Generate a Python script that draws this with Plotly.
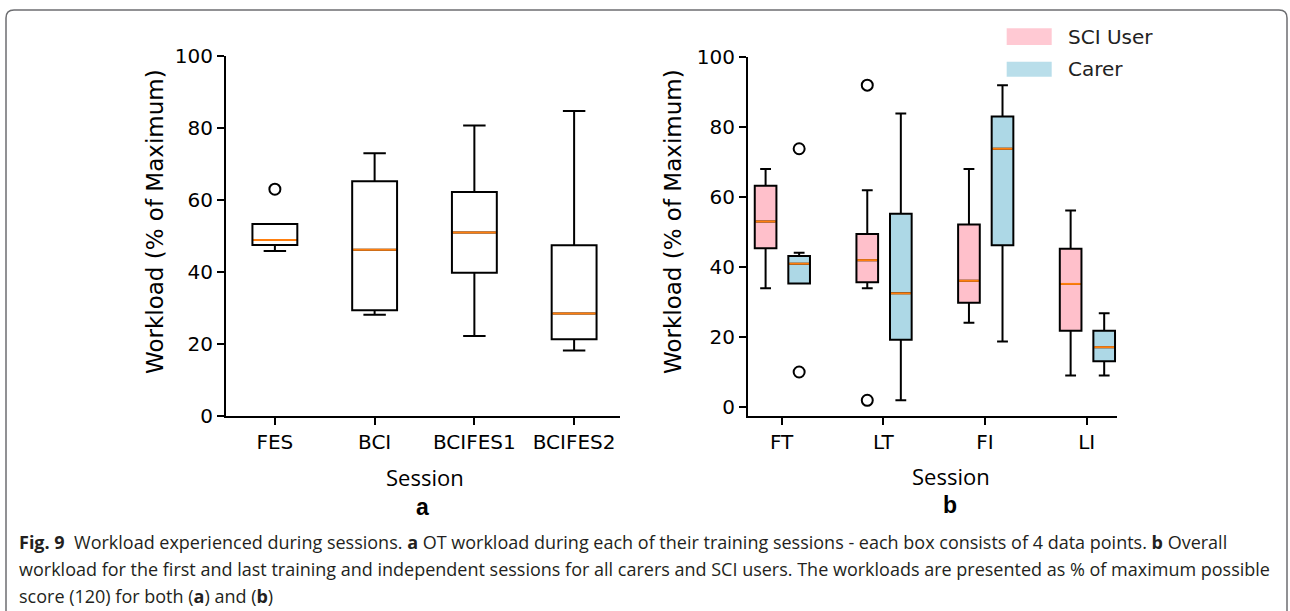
import plotly.graph_objects as go

W, H = 1290, 611

# ---------------- data ----------------
sessions_a = ["FES", "BCI", "BCIFES1", "BCIFES2"]
a_low = [45.8, 28.1, 22.2, 18.2]
a_q1 = [47.5, 29.4, 39.8, 21.3]
a_med = [48.9, 46.2, 51.0, 28.5]
a_q3 = [53.3, 65.2, 62.2, 47.4]
a_high = [53.3, 73.0, 80.7, 84.7]
a_out_session = ["FES"]
a_out_value = [63.0]

sessions_b = ["FT", "LT", "FI", "LI"]
sci_low = [33.9, 33.9, 24.0, 8.9]
sci_q1 = [45.3, 35.6, 29.7, 21.7]
sci_med = [53.0, 41.9, 36.0, 35.1]
sci_q3 = [63.2, 49.4, 52.1, 45.2]
sci_high = [68.0, 61.9, 68.0, 56.1]
sci_out_session = ["LT", "LT"]
sci_out_value = [92.0, 1.8]

carer_low = [35.2, 1.8, 18.6, 8.9]
carer_q1 = [35.2, 19.1, 46.2, 13.0]
carer_med = [40.9, 32.4, 73.8, 17.0]
carer_q3 = [43.1, 55.2, 83.0, 21.7]
carer_high = [44.0, 83.9, 92.0, 26.7]
carer_out_session = ["FT", "FT"]
carer_out_value = [73.8, 9.9]

y_ticks = [0, 20, 40, 60, 80, 100]

# ---------------- styling ----------------
BOX_LINE = dict(color="black", width=2)
MED_COLOR = "#ff7f0e"
PINK = "#FFC0CB"
BLUE = "#ADD8E6"
TICKFONT = dict(family="DejaVu Sans", size=20, color="black")

pos_a = {s: i + 1 for i, s in enumerate(sessions_a)}
pos_b = {s: i + 1 for i, s in enumerate(sessions_b)}
w_a = 0.45
w_b = 0.213
off_sci = -0.158
off_carer = 0.172


def px_x(p):
    return p / W


def px_y(p):
    return 1 - p / H


fig = go.Figure()


def add_group(xs, low, q1, med, q3, high, width, fill, xa, ya):
    fig.add_trace(go.Box(
        x=xs, q1=q1, median=med, q3=q3, lowerfence=low, upperfence=high,
        width=width, whiskerwidth=0.5, line=BOX_LINE, fillcolor=fill,
        boxpoints=False, showlegend=False, xaxis=xa, yaxis=ya,
        hoverinfo="skip",
    ))
    mx, my = [], []
    for x, m in zip(xs, med):
        mx += [x - width / 2 + 0.01, x + width / 2 - 0.01, None]
        my += [m, m, None]
    fig.add_trace(go.Scatter(
        x=mx, y=my, mode="lines", line=dict(color=MED_COLOR, width=2),
        showlegend=False, xaxis=xa, yaxis=ya, hoverinfo="skip",
    ))


def add_outliers(xs, ys, xa, ya):
    fig.add_trace(go.Scatter(
        x=xs, y=ys, mode="markers",
        marker=dict(symbol="circle-open", size=11, color="black",
                    line=dict(width=2, color="black")),
        showlegend=False, xaxis=xa, yaxis=ya, hoverinfo="skip",
    ))


# panel a
xa_pos = [pos_a[s] for s in sessions_a]
add_group(xa_pos, a_low, a_q1, a_med, a_q3, a_high, w_a,
          "rgba(0,0,0,0)", "x", "y")
add_outliers([pos_a[s] for s in a_out_session], a_out_value, "x", "y")

# panel b
xs_sci = [pos_b[s] + off_sci for s in sessions_b]
xs_car = [pos_b[s] + off_carer for s in sessions_b]
add_group(xs_sci, sci_low, sci_q1, sci_med, sci_q3, sci_high, w_b,
          PINK, "x2", "y2")
add_group(xs_car, carer_low, carer_q1, carer_med, carer_q3, carer_high, w_b,
          BLUE, "x2", "y2")
add_outliers([pos_b[s] + off_sci for s in sci_out_session], sci_out_value,
             "x2", "y2")
add_outliers([pos_b[s] + off_carer for s in carer_out_session],
             carer_out_value, "x2", "y2")

axis_common = dict(
    showline=True, linecolor="black", linewidth=2, mirror=False,
    ticks="outside", ticklen=7, tickwidth=2, tickcolor="black",
    showgrid=False, zeroline=False, tickfont=TICKFONT, fixedrange=True,
    automargin=False,
)

fig.update_layout(
    width=W, height=H,
    margin=dict(l=0, r=0, t=0, b=0, pad=0, autoexpand=False),
    paper_bgcolor="white", plot_bgcolor="white",
    boxmode="overlay",
    xaxis=dict(domain=[px_x(226), px_x(620)], range=[0.51, 4.46],
               tickvals=xa_pos, ticktext=sessions_a, anchor="y",
               **axis_common),
    yaxis=dict(domain=[px_y(416), px_y(56)], range=[0, 100],
               tickvals=y_ticks, anchor="x", **axis_common),
    xaxis2=dict(domain=[px_x(748), px_x(1117)], range=[0.669, 4.298],
                tickvals=[pos_b[s] for s in sessions_b], ticktext=sessions_b,
                anchor="y2", **axis_common),
    yaxis2=dict(domain=[px_y(416), px_y(57.2)], range=[-2.7, 100],
                tickvals=y_ticks, anchor="x2", **axis_common),
)

annotations = []
# y-axis titles
for xc in (155, 673):
    annotations.append(dict(
        x=px_x(xc), y=px_y(222), xref="paper", yref="paper",
        text="Workload (% of Maximum)", textangle=-90, showarrow=False,
        font=dict(family="DejaVu Sans", size=23, color="black"),
        xanchor="center", yanchor="middle"))
# x-axis titles and panel letters
for xc, yc, txt in ((425, 477, "Session"), (951, 476, "Session")):
    annotations.append(dict(
        x=px_x(xc), y=px_y(yc), xref="paper", yref="paper", text=txt,
        showarrow=False, font=dict(family="Open Sans", size=22, color="black"),
        xanchor="center", yanchor="middle"))
for xc, yc, txt in ((422, 507, "a"), (950, 505, "b")):
    annotations.append(dict(
        x=px_x(xc), y=px_y(yc), xref="paper", yref="paper",
        text="<b>%s</b>" % txt, showarrow=False,
        font=dict(family="Liberation Sans", size=23, color="black"),
        xanchor="center", yanchor="middle"))
# legend
legend_items = [("SCI User", PINK, 28.3, 45), ("Carer", BLUE, 61.7, 76.7)]
shapes = []
for label, col, y0, y1 in legend_items:
    shapes.append(dict(type="rect", xref="paper", yref="paper",
                       x0=px_x(1006.7), x1=px_x(1051.7),
                       y0=px_y(y1), y1=px_y(y0),
                       fillcolor=col, opacity=0.85, line=dict(width=0)))
    annotations.append(dict(
        x=px_x(1066), y=px_y((y0 + y1) / 2), xref="paper", yref="paper",
        text=label, showarrow=False, xanchor="left", yanchor="middle",
        font=dict(family="DejaVu Sans", size=20, color="#222")))

# caption
caption_lines = [
    "<b>Fig. 9</b>  Workload experienced during sessions. <b>a</b> OT workload "
    "during each of their training sessions - each box consists of 4 data "
    "points. <b>b</b> Overall",
    "workload for the first and last training and independent sessions for "
    "all carers and SCI users. The workloads are presented as % of maximum "
    "possible",
    "score (120) for both (<b>a</b>) and (<b>b</b>)",
]
for i, line in enumerate(caption_lines):
    annotations.append(dict(
        x=px_x(17), y=px_y(542 + 27 * i), xref="paper", yref="paper",
        text=line, showarrow=False, xanchor="left", yanchor="middle",
        font=dict(family="Open Sans", size=18, color="#231f20")))

# rounded frame (kept inside the paper)
r = 8
x0, x1, yt, yb = 6, 1287, 10, 611
path = (f"M {px_x(x0)},{px_y(yb)} L {px_x(x0)},{px_y(yt + r)} "
        f"Q {px_x(x0)},{px_y(yt)} {px_x(x0 + r)},{px_y(yt)} "
        f"L {px_x(x1 - r)},{px_y(yt)} "
        f"Q {px_x(x1)},{px_y(yt)} {px_x(x1)},{px_y(yt + r)} "
        f"L {px_x(x1)},{px_y(yb)}")
shapes.append(dict(type="path", xref="paper", yref="paper", path=path,
                   line=dict(color="#6d6e71", width=1.5)))

fig.update_layout(annotations=annotations, shapes=shapes)

post = (
    "var d=document.getElementById('{plot_id}');"
    "d.style.position='fixed';d.style.top='0px';d.style.left='0px';"
    "document.documentElement.style.margin='0';"
    "document.documentElement.style.overflow='hidden';"
    "document.body.style.margin='0';document.body.style.padding='0';"
    "document.body.style.overflow='hidden';"
)
fig.write_html("out.html", config={"displayModeBar": False}, post_script=post)
